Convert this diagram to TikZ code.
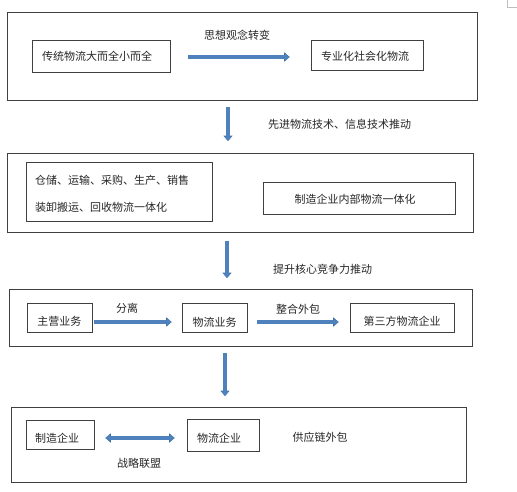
\documentclass[tikz,border=0pt]{standalone}
\usepackage{fontspec}
\setmainfont{Noto Sans CJK SC}
\usetikzlibrary{arrows.meta}
\definecolor{arrowblue}{HTML}{4F81BD}
\definecolor{arrowedge}{HTML}{41719C}
\definecolor{boxline}{HTML}{404040}
\definecolor{txt}{HTML}{262626}
\tikzset{
  outerbox/.style={draw=boxline, line width=0.8pt, rectangle, inner sep=0pt},
  innerbox/.style={draw=boxline, line width=0.8pt, rectangle, inner sep=0pt, text=txt},
  lbl/.style={text=txt, inner sep=0pt},
  bigarrow/.style={draw=arrowblue, line width=3.2pt,
    preaction={draw=arrowedge, line width=4.2pt, -{Triangle[length=5.5pt,width=9pt]}},
    -{Triangle[length=4.5pt,width=7.5pt]}},
  bigdarrow/.style={draw=arrowblue, line width=3.2pt,
    preaction={draw=arrowedge, line width=4.2pt, {Triangle[length=5.5pt,width=9pt]}-{Triangle[length=5.5pt,width=9pt]}},
    {Triangle[length=4.5pt,width=7.5pt]}-{Triangle[length=4.5pt,width=7.5pt]}},
}
\begin{document}
\begin{tikzpicture}[x=1pt,y=-1pt,font=\fontsize{11}{12}\selectfont]
\useasboundingbox (0,0) rectangle (517,491);
% corner mark
\draw[gray!50, line width=0.6pt] (507,0) -- (507,7) -- (517,7);

% ---------- box 1
\node[outerbox, minimum width=470pt, minimum height=88pt] (box1) at (242,56) {};
\node[innerbox, minimum width=138pt, minimum height=32pt] (A) at (101,56) {};
\node[lbl] (At) at (97,56) {传统物流大而全小而全};
\node[innerbox, minimum width=112pt, minimum height=30pt] (B) at (367,55) {};
\node[lbl] (Bt) at (365,56) {专业化社会化物流};
\node[lbl] (lab1) at (237,35) {思想观念转变};
\draw[bigarrow] ([xshift=18pt]A.east |- 0,57) -- ([xshift=-21pt]B.west |- 0,57);

% ---------- arrow 1
\coordinate (v1s) at (228,107);
\coordinate (v1e) at (228,141);
\draw[bigarrow] (v1s) -- (v1e);
\node[lbl, anchor=west] (lab2) at (268,124) {先进物流技术、信息技术推动};

% ---------- box 2
\node[outerbox, minimum width=466pt, minimum height=79pt] (box2) at (240,192.5) {};
\node[innerbox, minimum width=186pt, minimum height=59pt] (C) at (119,191.5) {};
\node[lbl, anchor=west] (C1) at (35,180) {仓储、运输、采购、生产、销售};
\node[lbl, anchor=west] (C2) at (35,207) {装卸搬运、回收物流一体化};
\node[innerbox, minimum width=192pt, minimum height=32pt] (D) at (359,198) {};
\node[lbl] (Dt) at (355,199) {制造企业内部物流一体化};

% ---------- arrow 2
\coordinate (v2s) at (227,241);
\coordinate (v2e) at (227,278);
\draw[bigarrow] (v2s) -- (v2e);
\node[lbl, anchor=west] (lab3) at (273,269) {提升核心竞争力推动};

% ---------- box 3
\node[outerbox, minimum width=463pt, minimum height=57pt] (box3) at (240.5,317.5) {};
\node[innerbox, minimum width=65pt, minimum height=29pt] (E) at (59.5,317.5) {};
\node[lbl] (Et) at (59.5,321) {主营业务};
\node[innerbox, minimum width=65pt, minimum height=29pt] (F) at (214.5,317.5) {};
\node[lbl] (Ft) at (214.5,322) {物流业务};
\node[innerbox, minimum width=104pt, minimum height=29pt] (G) at (402,317.5) {};
\node[lbl] (Gt) at (402,321) {第三方物流企业};
\draw[bigarrow] ([xshift=2pt]E.east |- 0,322) -- ([xshift=-10pt]F.west |- 0,322);
\node[lbl] (lab4) at (127,308) {分离};
\draw[bigarrow] ([xshift=10pt]F.east |- 0,322) -- ([xshift=-11pt]G.west |- 0,322);
\node[lbl] (lab5) at (298,309) {整合外包};

% ---------- arrow 3
\coordinate (v3s) at (225,353);
\coordinate (v3e) at (225,396);
\draw[bigarrow] (v3s) -- (v3e);

% ---------- box 4
\node[outerbox, minimum width=455pt, minimum height=75pt] (box4) at (238.5,444.5) {};
\node[innerbox, minimum width=68pt, minimum height=29pt] (H) at (60,434.5) {};
\node[lbl] (Ht) at (57,438) {制造企业};
\node[innerbox, minimum width=72pt, minimum height=32pt] (I) at (223,435) {};
\node[lbl] (It) at (219,438) {物流企业};
\draw[bigdarrow] ([xshift=11pt]H.east |- 0,438) -- ([xshift=-12pt]I.west |- 0,438);
\node[lbl] (lab6) at (139,463) {战略联盟};
\node[lbl] (lab7) at (320,437) {供应链外包};
\end{tikzpicture}
\end{document}
